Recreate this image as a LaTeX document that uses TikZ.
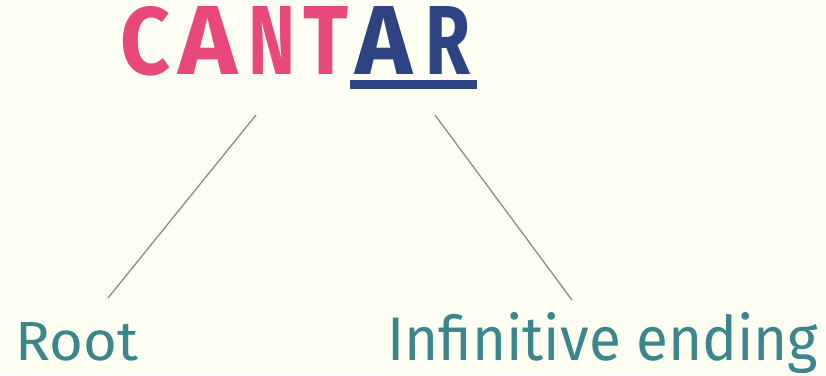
\documentclass[tikz,border=0pt]{standalone}
\usepackage{fontspec}
\setmainfont{Fira Sans}
\definecolor{bgc}{HTML}{FEFEF2}
\definecolor{pinkc}{HTML}{E8497A}
\definecolor{bluec}{HTML}{2E4482}
\definecolor{tealc}{HTML}{3A868C}
\definecolor{linec}{HTML}{8C8C80}
\tikzset{
  word/.style={inner sep=0pt, anchor=base west},
  branch/.style={draw=linec, line width=1.3pt},
}
\newcommand{\bigletter}[2]{\resizebox{#1pt}{68pt}{\fontseries{sb}\selectfont #2}}
\begin{document}
\begin{tikzpicture}[x=1pt,y=-1pt]
\fill[bgc] (0,0) rectangle (826,375);
\useasboundingbox (0,0) rectangle (826,375);
\node[word, text=pinkc] (c) at (120,74) {\bigletter{50}{C}};
\node[word, text=pinkc] (a1) at (178,74) {\bigletter{59}{A}};
\node[word, text=pinkc] (n) at (248,74) {\bigletter{47}{N}};
\node[word, text=pinkc] (t) at (303,74) {\bigletter{45}{T}};
\node[word, text=bluec] (a2) at (355,74) {\bigletter{57}{A}};
\node[word, text=bluec] (r) at (425,74) {\bigletter{45}{R}};
\fill[bluec] (350,80) rectangle (477,89);
\node[word, text=tealc] (root) at (15,360) {\resizebox{123pt}{38pt}{\fontseries{m}\selectfont Root}};
\node[word, text=tealc] (inf) at (387,360) {\resizebox{431pt}{48pt}{Infinitive ending}};
\coordinate (c1) at (256,115);
\coordinate (c2) at (108,298);
\coordinate (c3) at (435,115);
\coordinate (c4) at (572,300);
\draw[branch] (c1) -- (c2);
\draw[branch] (c3) -- (c4);
\end{tikzpicture}
\end{document}
